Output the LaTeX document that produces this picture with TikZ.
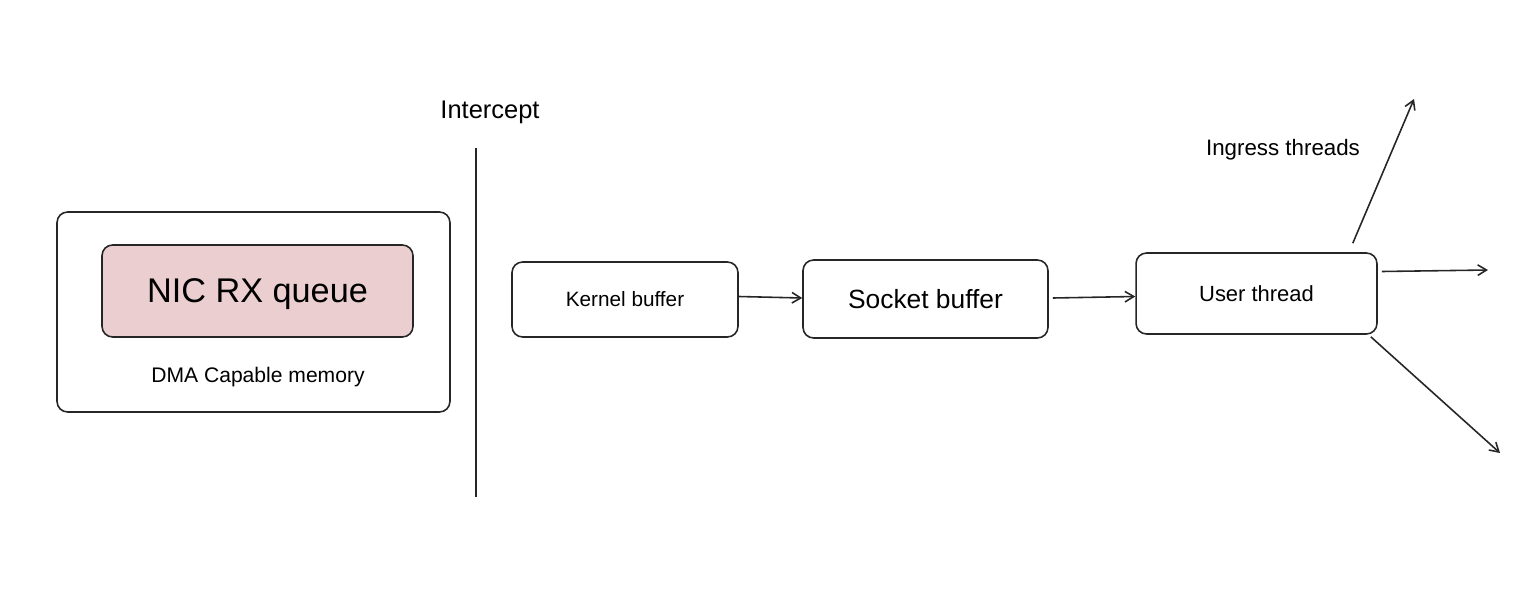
\documentclass[tikz,border=0pt]{standalone}
\usepackage{fontspec}
\setmainfont{Liberation Sans}
\usepackage{tikz}
\usetikzlibrary{arrows.meta, calc}
\definecolor{nicpink}{RGB}{235,207,208}
\tikzstyle{buf} = [rectangle, rounded corners=6pt, text centered, draw=black!85, line width=0.9pt]
\tikzstyle{arrow} = [line width=0.9pt, draw=black!85, -{Straight Barb[length=5pt, width=6pt]}]

\begin{document}
\begin{tikzpicture}[x=0.02cm, y=-0.02cm]
  \useasboundingbox (0,0) rectangle (1534,595);
  % Left side: memory region
  \node[buf, minimum width=7.86cm, minimum height=4cm] (dma) at (253.5,312) {};
  \node[buf, fill=nicpink, minimum width=6.22cm, minimum height=1.84cm, text depth=0pt, font=\fontsize{19.5}{22}\selectfont] (nic) at (257.5,291) {NIC RX queue};
  \node[font=\fontsize{12}{14}\selectfont] (dmalabel) at (258,377) {DMA Capable memory};

  % Intercept line
  \coordinate (cuttop) at (476,148);
  \coordinate (cutbot) at (476,497);
  \draw[line width=1pt, black!85] (cuttop) -- (cutbot);
  \node[font=\fontsize{14.5}{16}\selectfont] (intercept) at (490,112) {Intercept};

  % Buffers
  \node[buf, minimum width=4.52cm, minimum height=1.5cm, font=\fontsize{11.8}{13}\selectfont] (kernel) at (625,299.5) {Kernel buffer};
  \node[buf, minimum width=4.9cm, minimum height=1.56cm, font=\fontsize{15}{17}\selectfont] (socket) at (925.5,299) {Socket buffer};
  \node[buf, minimum width=4.82cm, minimum height=1.62cm, text depth=0pt, font=\fontsize{12.5}{14}\selectfont] (user) at (1256.5,293.5) {User thread};
  \node[font=\fontsize{12.7}{14}\selectfont] (ingress) at (1283,150) {Ingress threads};

  % Fan-out ends
  \coordinate (outup) at (1414,99);
  \coordinate (outright) at (1488,270);
  \coordinate (outdown) at (1500,453);

  \draw[arrow] ($(kernel.east)+(0,-3)$) -- ($(socket.west)+(0,-1)$);
  \draw[arrow] ($(socket.east)+(4,-1)$) -- ($(user.west)+(0,3)$);
  \draw[arrow] ($(user.north east)+(-25,-9)$) -- (outup);
  \draw[arrow] ($(user.east)+(4,-22)$) -- (outright);
  \draw[arrow] ($(user.south east)+(-7,2)$) -- (outdown);
\end{tikzpicture}
\end{document}
